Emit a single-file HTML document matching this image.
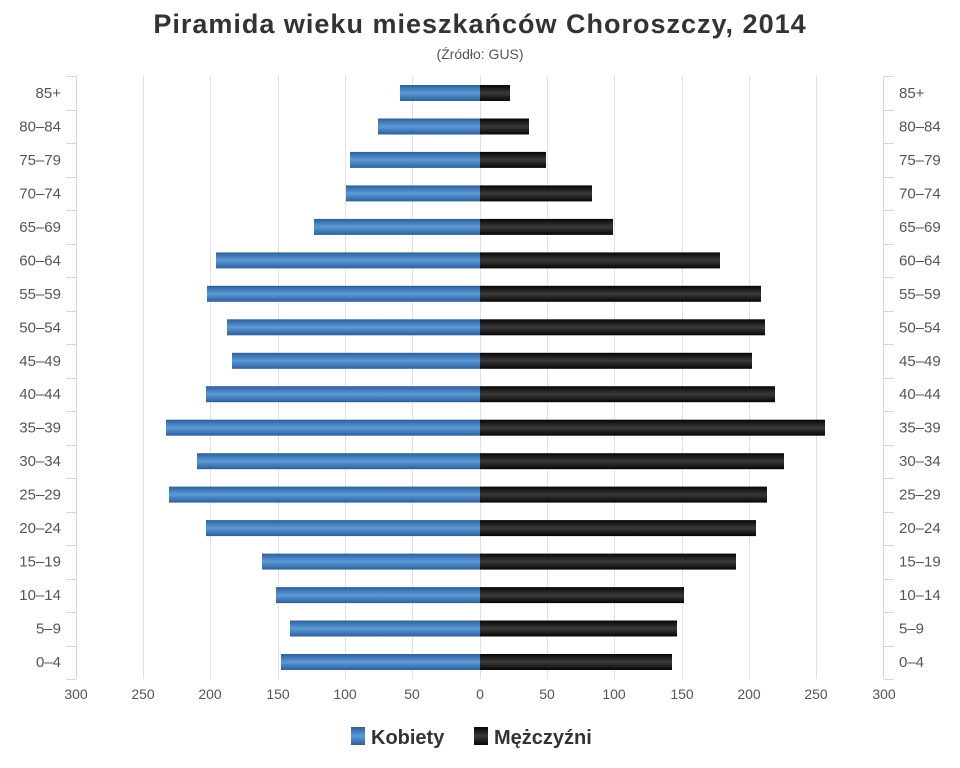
<!DOCTYPE html>
<html><head><meta charset="utf-8"><style>body{margin:0;background:#fff}svg{display:block}text{font-family:"Liberation Sans",sans-serif}</style></head><body>
<svg width="960" height="768" xmlns="http://www.w3.org/2000/svg">
<defs>
<linearGradient id="b" x1="0" y1="0" x2="0" y2="1"><stop offset="0" stop-color="#2d5f99"/><stop offset="0.5" stop-color="#5b9ad8"/><stop offset="1" stop-color="#2d5f99"/></linearGradient>
<linearGradient id="k" x1="0" y1="0" x2="0" y2="1"><stop offset="0" stop-color="#050505"/><stop offset="0.5" stop-color="#3a3a3a"/><stop offset="1" stop-color="#050505"/></linearGradient>
</defs>
<text x="480" y="33" text-anchor="middle" font-size="27" font-weight="bold" fill="#333" letter-spacing="1">Piramida wieku mieszkańców Choroszczy, 2014</text>
<text x="480" y="59" text-anchor="middle" font-size="14" fill="#555">(Źródło: GUS)</text>
<g stroke="#e0e0e0" stroke-width="1">
<line x1="143.5" y1="76" x2="143.5" y2="679"/><line x1="210.5" y1="76" x2="210.5" y2="679"/><line x1="278.5" y1="76" x2="278.5" y2="679"/><line x1="345.5" y1="76" x2="345.5" y2="679"/><line x1="412.5" y1="76" x2="412.5" y2="679"/><line x1="480.5" y1="76" x2="480.5" y2="679"/><line x1="547.5" y1="76" x2="547.5" y2="679"/><line x1="614.5" y1="76" x2="614.5" y2="679"/><line x1="682.5" y1="76" x2="682.5" y2="679"/><line x1="749.5" y1="76" x2="749.5" y2="679"/><line x1="816.5" y1="76" x2="816.5" y2="679"/>
</g>
<g stroke="#ccd6eb"><line x1="76.5" y1="76" x2="76.5" y2="679"/><line x1="883.5" y1="76" x2="883.5" y2="679"/>
<path d="M66 76.5H76M66 110.5H76M66 143.5H76M66 177.5H76M66 210.5H76M66 244.5H76M66 277.5H76M66 311.5H76M66 344.5H76M66 378.5H76M66 411.5H76M66 445.5H76M66 478.5H76M66 512.5H76M66 545.5H76M66 579.5H76M66 612.5H76M66 646.5H76M66 679.5H76"/>
<path d="M884 76.5H894M884 110.5H894M884 143.5H894M884 177.5H894M884 210.5H894M884 244.5H894M884 277.5H894M884 311.5H894M884 344.5H894M884 378.5H894M884 411.5H894M884 445.5H894M884 478.5H894M884 512.5H894M884 545.5H894M884 579.5H894M884 612.5H894M884 646.5H894M884 679.5H894"/>
</g>
<g fill="url(#b)">
<rect x="400" y="85" width="80" height="16"/>
<rect x="378" y="118.5" width="102" height="16"/>
<rect x="350" y="151.9" width="130" height="16"/>
<rect x="346" y="185.4" width="134" height="16"/>
<rect x="314" y="218.9" width="166" height="16"/>
<rect x="216" y="252.4" width="264" height="16"/>
<rect x="207" y="285.8" width="273" height="16"/>
<rect x="227" y="319.3" width="253" height="16"/>
<rect x="232" y="352.8" width="248" height="16"/>
<rect x="206" y="386.2" width="274" height="16"/>
<rect x="166" y="419.7" width="314" height="16"/>
<rect x="197" y="453.2" width="283" height="16"/>
<rect x="169" y="486.6" width="311" height="16"/>
<rect x="206" y="520.1" width="274" height="16"/>
<rect x="262" y="553.6" width="218" height="16"/>
<rect x="276" y="587.1" width="204" height="16"/>
<rect x="290" y="620.5" width="190" height="16"/>
<rect x="281" y="654" width="199" height="16"/>
</g>
<g fill="url(#k)">
<rect x="480" y="85" width="30" height="16"/>
<rect x="480" y="118.5" width="49" height="16"/>
<rect x="480" y="151.9" width="66" height="16"/>
<rect x="480" y="185.4" width="112" height="16"/>
<rect x="480" y="218.9" width="133" height="16"/>
<rect x="480" y="252.4" width="240" height="16"/>
<rect x="480" y="285.8" width="281" height="16"/>
<rect x="480" y="319.3" width="285" height="16"/>
<rect x="480" y="352.8" width="272" height="16"/>
<rect x="480" y="386.2" width="295" height="16"/>
<rect x="480" y="419.7" width="345" height="16"/>
<rect x="480" y="453.2" width="304" height="16"/>
<rect x="480" y="486.6" width="287" height="16"/>
<rect x="480" y="520.1" width="276" height="16"/>
<rect x="480" y="553.6" width="256" height="16"/>
<rect x="480" y="587.1" width="204" height="16"/>
<rect x="480" y="620.5" width="197" height="16"/>
<rect x="480" y="654" width="192" height="16"/>
</g>
<g font-size="15" fill="#555" text-anchor="end">
<text x="61" y="98">85+</text><text x="61" y="131.5">80–84</text><text x="61" y="165">75–79</text><text x="61" y="198.4">70–74</text><text x="61" y="231.9">65–69</text><text x="61" y="265.4">60–64</text><text x="61" y="298.8">55–59</text><text x="61" y="332.3">50–54</text><text x="61" y="365.8">45–49</text><text x="61" y="399.2">40–44</text><text x="61" y="432.7">35–39</text><text x="61" y="466.2">30–34</text><text x="61" y="499.6">25–29</text><text x="61" y="533.1">20–24</text><text x="61" y="566.6">15–19</text><text x="61" y="600">10–14</text><text x="61" y="633.5">5–9</text><text x="61" y="667">0–4</text>
</g>
<g font-size="15" fill="#555">
<text x="899" y="98">85+</text><text x="899" y="131.5">80–84</text><text x="899" y="165">75–79</text><text x="899" y="198.4">70–74</text><text x="899" y="231.9">65–69</text><text x="899" y="265.4">60–64</text><text x="899" y="298.8">55–59</text><text x="899" y="332.3">50–54</text><text x="899" y="365.8">45–49</text><text x="899" y="399.2">40–44</text><text x="899" y="432.7">35–39</text><text x="899" y="466.2">30–34</text><text x="899" y="499.6">25–29</text><text x="899" y="533.1">20–24</text><text x="899" y="566.6">15–19</text><text x="899" y="600">10–14</text><text x="899" y="633.5">5–9</text><text x="899" y="667">0–4</text>
</g>
<g font-size="14" fill="#555" text-anchor="middle">
<text x="76" y="699">300</text><text x="143" y="699">250</text><text x="210" y="699">200</text><text x="278" y="699">150</text><text x="345" y="699">100</text><text x="412" y="699">50</text><text x="480" y="699">0</text><text x="547" y="699">50</text><text x="614" y="699">100</text><text x="682" y="699">150</text><text x="749" y="699">200</text><text x="816" y="699">250</text><text x="884" y="699">300</text>
</g>
<rect x="351" y="727" width="14" height="18" fill="url(#b)"/>
<text x="371" y="744" font-size="20" font-weight="bold" fill="#333">Kobiety</text>
<rect x="474" y="727" width="14" height="18" fill="url(#k)"/>
<text x="494" y="744" font-size="20" font-weight="bold" fill="#333">Mężczyźni</text>
</svg>
</body></html>
